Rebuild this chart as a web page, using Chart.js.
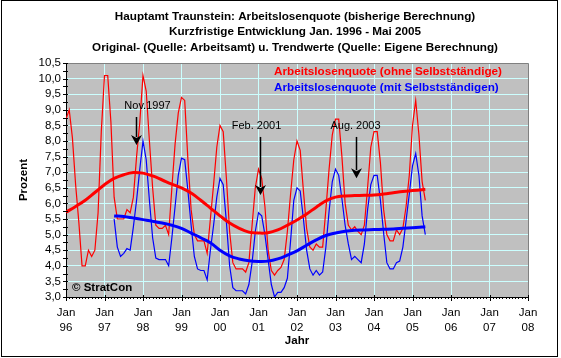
<!DOCTYPE html>
<html lang="de">
<head>
<meta charset="utf-8">
<title>Arbeitslosenquote Hauptamt Traunstein</title>
<script src="https://cdn.jsdelivr.net/npm/chart.js@4/dist/chart.umd.min.js"></script>
<style>
  html, body { margin: 0; padding: 0; background: #fff; }
  canvas { display: block; }
</style>
</head>
<body>
<canvas id="grafik" width="561" height="358"></canvas>
<script>
//-------------------------- Daten --------------------------
const jahre = ["96", "97", "98", "99", "00", "01", "02", "03", "04", "05", "06", "07", "08"];

// Monatswerte Jan. 1996 - Mai 2005 (ohne Selbstständige)
const rotOhneSelbst = [
  8.7, 9.0, 8.1, 6.6, 5.4, 4.0, 4.0, 4.5, 4.3, 4.5, 5.7, 8.3,      // 1996
  10.1, 10.1, 8.6, 6.2, 5.5, 5.5, 5.5, 5.8, 5.7, 6.2, 7.5, 8.6,    // 1997
  10.1, 9.6, 8.0, 6.5, 5.3, 5.2, 5.2, 5.3, 5.0, 6.5, 7.9, 8.9,     // 1998
  9.4, 9.3, 7.4, 5.8, 5.0, 4.8, 4.8, 4.8, 4.4, 5.5, 6.6, 7.8,      // 1999
  8.5, 8.3, 6.8, 5.1, 4.1, 3.9, 3.9, 3.9, 3.8, 4.1, 5.3, 6.5,      // 2000
  7.1, 6.8, 5.9, 4.5, 3.85, 3.7, 3.85, 3.95, 4.2, 5.1, 6.3, 7.4,   // 2001
  8.0, 7.7, 6.4, 5.2, 4.6, 4.5, 4.7, 4.6, 4.6, 5.8, 7.1, 8.2,      // 2002
  8.7, 8.7, 7.5, 6.0, 5.3, 5.15, 5.25, 5.1, 5.0, 5.3, 6.5, 7.8,    // 2003
  8.3, 8.3, 7.3, 5.8, 5.0, 4.8, 4.8, 5.15, 5.0, 5.2, 5.9, 6.9,     // 2004
  8.5, 9.3, 8.2, 6.7, 6.1                                          // 2005
];

// Monatswerte Apr. 1997 - Mai 2005 (mit Selbstständigen)
const blauStartMonat = 15;
const blauMitSelbst = [
  5.5, 4.6, 4.3, 4.4, 4.55, 4.5, 5.25, 6.1, 7.1,                   // 1997
  8.0, 7.4, 6.1, 4.9, 4.25, 4.2, 4.2, 4.2, 4.0, 4.9, 5.9, 6.9,     // 1998
  7.45, 7.4, 6.4, 5.3, 4.3, 3.9, 3.85, 3.85, 3.55, 4.5, 5.3, 6.2,  // 1999
  6.8, 6.6, 5.4, 4.0, 3.3, 3.2, 3.2, 3.2, 3.1, 3.4, 4.1, 5.1,      // 2000
  5.7, 5.6, 5.0, 4.2, 3.4, 3.0, 3.15, 3.15, 3.3, 3.6, 4.8, 6.1,    // 2001
  6.5, 6.4, 5.5, 4.5, 3.9, 3.7, 3.85, 3.7, 3.8, 4.6, 5.75, 6.7,    // 2002
  7.1, 6.9, 6.15, 5.3, 4.7, 4.2, 4.3, 4.2, 4.1, 4.7, 5.8, 6.6,     // 2003
  6.9, 6.9, 6.1, 5.05, 4.1, 3.9, 3.9, 4.1, 4.15, 4.6, 5.45, 6.3,   // 2004
  7.2, 7.6, 6.9, 5.6, 5.0                                          // 2005
];

// Trendwerte (Monat seit Jan. 1996)
const rotTrendMonat = [0, 3, 6, 9, 12, 15, 18, 21, 24, 27, 30, 33, 36, 39, 42, 45, 48, 51, 54, 57,
  60, 63, 66, 69, 72, 75, 78, 81, 84, 87, 90, 93, 96, 99, 102, 105, 108, 111, 112];
const rotTrend = [5.72, 5.9, 6.1, 6.35, 6.6, 6.8, 6.92, 6.99, 6.97, 6.88, 6.75, 6.62, 6.5, 6.33,
  6.1, 5.85, 5.6, 5.37, 5.2, 5.08, 5.05, 5.06, 5.15, 5.3, 5.47, 5.66, 5.88, 6.08, 6.2, 6.24,
  6.25, 6.26, 6.27, 6.3, 6.34, 6.38, 6.41, 6.44, 6.45];

const blauTrendMonat = [15, 18, 21, 24, 27, 30, 33, 36, 39, 42, 45, 48, 51, 54, 57, 60, 63, 66,
  69, 72, 75, 78, 81, 84, 87, 90, 93, 96, 99, 102, 105, 108, 111, 112];
const blauTrend = [5.6, 5.58, 5.53, 5.48, 5.43, 5.37, 5.3, 5.2, 5.05, 4.9, 4.74, 4.5, 4.32, 4.22,
  4.16, 4.14, 4.15, 4.22, 4.34, 4.48, 4.66, 4.83, 4.97, 5.05, 5.11, 5.14, 5.15, 5.16, 5.17,
  5.18, 5.2, 5.22, 5.24, 5.25];

const titelZeilen = [
  "Hauptamt Traunstein: Arbeitslosenquote (bisherige Berechnung)",
  "Kurzfristige Entwicklung Jan. 1996 - Mai 2005",
  "Original- (Quelle: Arbeitsamt) u. Trendwerte (Quelle: Eigene Berechnung)"
];
const legende = ["Arbeitslosenquote (ohne Selbstständige)", "Arbeitslosenquote (mit Selbstständigen)"];

const hinweise = [
  { text: "Nov.1997", monat: 21.8, oben: 8.77, spitze: 7.87, dx: 11 },
  { text: "Feb. 2001", monat: 60.4, oben: 8.13, spitze: 6.27, dx: -4 },
  { text: "Aug. 2003", monat: 90.3, oben: 8.13, spitze: 6.81, dx: -1 }
];

//-------------------------- Zeichnen --------------------------
const SCHRIFT = "'Liberation Sans', Arial, sans-serif";
const GITTER = "#ccffff";

const rahmen = {
  id: "rahmen",
  beforeDraw(chart) {
    const { ctx, chartArea: a } = chart;
    ctx.save();
    ctx.fillStyle = "#fff";
    ctx.fillRect(0, 0, chart.width, chart.height);
    ctx.fillStyle = "#c0c0c0";
    ctx.fillRect(a.left, a.top, a.right - a.left, a.bottom - a.top);
    ctx.restore();
  },
  afterDraw(chart) {
    const { ctx, chartArea: a } = chart;
    const x = chart.scales.x;
    const y = chart.scales.y;
    ctx.save();

    // oberer und rechter Rand der Zeichenfläche
    ctx.strokeStyle = "#808080";
    ctx.lineWidth = 1;
    ctx.beginPath();
    ctx.moveTo(a.left, a.top + 0.5);
    ctx.lineTo(a.right + 0.5, a.top + 0.5);
    ctx.lineTo(a.right + 0.5, a.bottom);
    ctx.stroke();

    // Teilstriche
    ctx.strokeStyle = "#000";
    ctx.beginPath();
    for (let m = 0; m <= 144; m++) {
      const px = Math.round(x.getPixelForValue(m)) + 0.5;
      const gross = m % 12 === 0;
      ctx.moveTo(px, a.bottom - (gross ? 2 : 0));
      ctx.lineTo(px, a.bottom + (gross ? 4 : 2));
    }
    for (let v = 3; v <= 10.5001; v += 0.25) {
      const py = Math.round(y.getPixelForValue(v)) + 0.5;
      ctx.moveTo(a.left - 3, py);
      ctx.lineTo(a.left + 2, py);
    }
    ctx.stroke();

    // Titel
    ctx.fillStyle = "#000";
    ctx.textAlign = "center";
    ctx.textBaseline = "middle";
    ctx.font = "bold 11.7px " + SCHRIFT;
    titelZeilen.forEach((zeile, i) => ctx.fillText(zeile, 295, 16.5 + i * 15.5));

    // Legende (nur Text)
    ctx.textAlign = "left";
    chart.data.datasets.slice(0, 2).forEach((ds, i) => {
      ctx.fillStyle = ds.borderColor;
      ctx.fillText(ds.label, 274, 71.5 + i * 16);
    });

    // Hinweispfeile
    ctx.fillStyle = "#000";
    ctx.strokeStyle = "#000";
    ctx.lineWidth = 1.5;
    hinweise.forEach((h) => {
      const px = Math.round(x.getPixelForValue(h.monat)) + 0.5;
      const oben = y.getPixelForValue(h.oben);
      const spitze = y.getPixelForValue(h.spitze);
      ctx.beginPath();
      ctx.moveTo(px, oben);
      ctx.lineTo(px, spitze - 8);
      ctx.stroke();
      ctx.beginPath();
      ctx.moveTo(px - 5.5, spitze - 10);
      ctx.lineTo(px, spitze - 7);
      ctx.lineTo(px + 5.5, spitze - 10);
      ctx.lineTo(px, spitze);
      ctx.closePath();
      ctx.fill();
      ctx.font = "11px " + SCHRIFT;
      ctx.textAlign = "center";
      ctx.fillText(h.text, px + h.dx, oben - 11);
    });

    // Copyright
    ctx.textAlign = "left";
    ctx.font = "bold 11.5px " + SCHRIFT;
    ctx.fillText("© StratCon", a.left + 6, a.bottom - 9.5);

    // äußerer Rahmen
    ctx.lineWidth = 1;
    ctx.strokeRect(1.5, 0.5, 556, 356);
    ctx.restore();
  }
};

function linie(label, punkte, farbe, breite, glatt, order) {
  return {
    label: label,
    data: punkte,
    borderColor: farbe,
    borderWidth: breite,
    pointRadius: 0,
    fill: false,
    tension: glatt ? 0.4 : 0,
    order: order
  };
}

new Chart(document.getElementById("grafik"), {
  type: "line",
  data: {
    datasets: [
      linie(legende[0], rotOhneSelbst.map((v, i) => ({ x: i, y: v })), "#ff0000", 1.2, false, 4),
      linie(legende[1], blauMitSelbst.map((v, i) => ({ x: i + blauStartMonat, y: v })), "#0000ff", 1.2, false, 3),
      linie("Trend ohne Selbstständige", rotTrendMonat.map((m, i) => ({ x: m, y: rotTrend[i] })), "#ff0000", 3, true, 2),
      linie("Trend mit Selbstständigen", blauTrendMonat.map((m, i) => ({ x: m, y: blauTrend[i] })), "#0000ff", 3, true, 1)
    ]
  },
  options: {
    responsive: false,
    animation: false,
    events: [],
    layout: { padding: { top: 63, right: 33, bottom: 10, left: 0 } },
    plugins: { legend: { display: false }, tooltip: { enabled: false } },
    scales: {
      x: {
        type: "linear",
        min: 0,
        max: 144,
        afterFit: (s) => { s.height = 51; },
        ticks: {
          stepSize: 12,
          padding: 8,
          color: "#000",
          maxRotation: 0,
          autoSkip: false,
          font: { family: SCHRIFT, size: 11.5, lineHeight: 1.3 },
          callback: (v) => ["Jan", jahre[v / 12]]
        },
        grid: { color: GITTER, drawTicks: false },
        border: { color: "#000" },
        title: {
          display: true,
          text: "Jahr",
          color: "#000",
          padding: { top: 0, bottom: 0 },
          font: { family: SCHRIFT, size: 11.5, weight: "bold" }
        }
      },
      y: {
        min: 3,
        max: 10.5,
        afterFit: (s) => { s.width = 66; },
        ticks: {
          stepSize: 0.5,
          padding: 5,
          autoSkip: false,
          color: "#000",
          font: { family: SCHRIFT, size: 11.5 },
          callback: (v) => v.toFixed(1).replace(".", ",")
        },
        grid: { color: GITTER, drawTicks: false },
        border: { color: "#000" },
        title: {
          display: true,
          text: "Prozent",
          color: "#000",
          padding: { top: 17, bottom: 0 },
          font: { family: SCHRIFT, size: 11.5, weight: "bold" }
        }
      }
    }
  },
  plugins: [rahmen]
});
</script>
</body>
</html>
